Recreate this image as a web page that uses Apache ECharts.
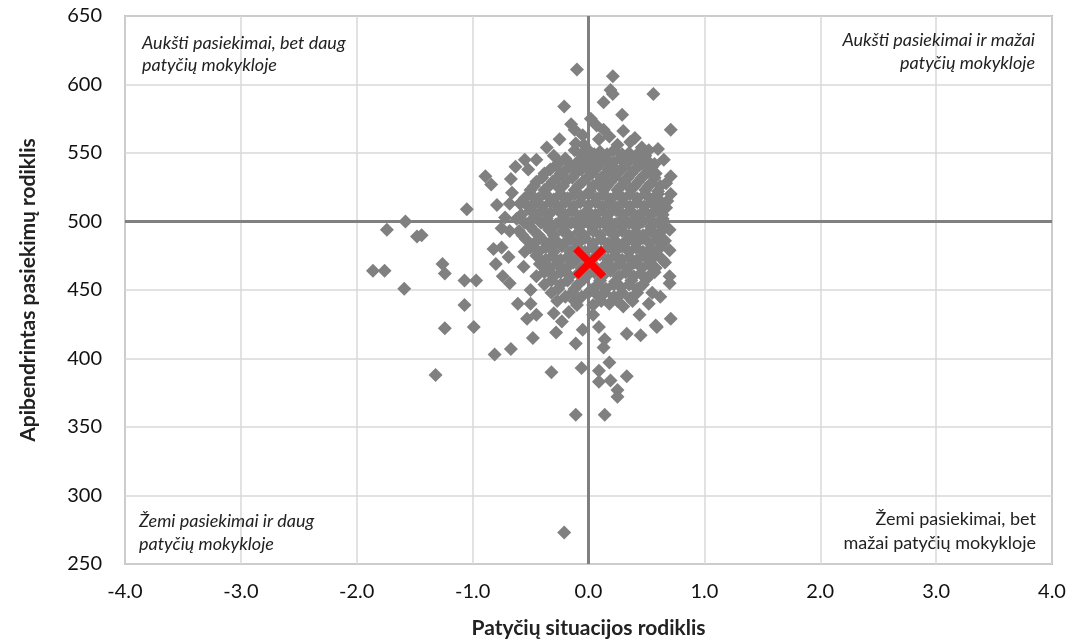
<!DOCTYPE html>
<html>
<head>
<meta charset="utf-8">
<title>Patyčių situacija ir pasiekimai</title>
<script src="https://cdn.jsdelivr.net/npm/echarts@6/dist/echarts.min.js"></script>
<style>
  html, body { margin: 0; padding: 0; background: #fff; }
  #main { width: 1075px; height: 644px; }
</style>
</head>
<body>
<div id="main"></div>
<script>
// axis ticks
var xTicks = [-4, -3, -2, -1, 0, 1, 2, 3, 4];
var yTicks = [250, 300, 350, 400, 450, 500, 550, 600, 650];

// schools far from the main cloud (read one by one)
var topPoints = [
  [-0.10, 611], [0.21, 606], [0.19, 596], [0.21, 593], [0.56, 593], [0.13, 587],
  [-0.21, 584], [0.29, 578], [-0.15, 571], [-0.12, 567], [0.07, 570], [0.13, 567],
  [0.71, 567], [0.09, 560], [-0.36, 554], [0.36, 558], [-0.11, 557], [0.46, 554],
  [0.52, 552], [-0.04, 556], [0.25, 556], [0.49, 548], [0.57, 542],
  [-0.25, 560], [-0.05, 563], [0.18, 562], [0.30, 566], [0.40, 561], [0.02, 575],
  [-0.30, 548], [0.60, 553], [0.65, 545]
];
var leftPoints = [
  [-0.63, 540], [-0.52, 538], [-0.89, 533], [-0.84, 527], [-0.67, 531], [-1.05, 509],
  [-0.79, 512], [-0.68, 513], [-0.59, 513], [-1.58, 500], [-1.74, 494], [-1.48, 489],
  [-1.44, 490], [-0.75, 495], [-0.68, 493], [-0.82, 480], [-0.75, 481], [-0.69, 474],
  [-0.80, 469], [-0.56, 467], [-1.86, 464], [-1.76, 464], [-1.26, 469], [-1.24, 462],
  [-1.07, 457], [-0.97, 457], [-1.59, 451], [-0.74, 460], [-0.68, 455], [-0.50, 450],
  [-0.61, 440], [-0.50, 440], [-1.07, 439], [-1.24, 422], [-0.99, 423], [-0.81, 403],
  [-0.67, 407], [-1.32, 388], [-0.66, 521], [-0.72, 503], [-0.55, 545], [-0.45, 545]
];
var bottomPoints = [
  [-0.53, 429], [-0.45, 432], [-0.30, 433], [-0.23, 427], [-0.17, 434], [-0.48, 415],
  [-0.28, 419], [-0.11, 411], [-0.05, 421], [-0.32, 390], [-0.06, 393], [-0.11, 359],
  [0.14, 359], [-0.21, 273], [0.09, 423], [0.14, 414], [0.13, 408], [0.18, 397],
  [0.09, 391], [0.09, 383], [0.19, 384], [0.33, 387], [0.25, 377], [0.25, 372],
  [0.33, 418], [0.45, 417], [0.58, 424], [0.71, 429], [0.04, 432], [0.44, 432],
  [0.52, 440], [0.59, 423]
];
var rightPoints = [
  [0.71, 533], [0.71, 520], [0.70, 494], [0.70, 479], [0.70, 460], [0.70, 455],
  [0.65, 500], [0.66, 486], [0.66, 470], [0.62, 445], [0.55, 448], [0.67, 510],
  [0.67, 528], [0.68, 515]
];
// dense middle of the cloud (estimated, too crowded to read singly)
var corePoints = [
  [-0.12, 552], [0.00, 552], [0.10, 551], [0.22, 552], [0.35, 550],
  [-0.20, 546], [-0.05, 546], [0.05, 547], [0.15, 545], [0.27, 546], [0.40, 546], [0.50, 545],
  [-0.28, 541], [-0.15, 541], [-0.02, 540], [0.09, 541], [0.20, 541], [0.31, 540], [0.44, 541], [0.55, 540],
  [-0.38, 535], [-0.24, 535], [-0.10, 536], [0.03, 535], [0.14, 534], [0.25, 535], [0.37, 535], [0.48, 534], [0.58, 535],
  [-0.45, 529], [-0.31, 529], [-0.19, 530], [-0.05, 529], [0.08, 528], [0.19, 529], [0.31, 530], [0.43, 529], [0.54, 528],
  [-0.50, 523], [-0.38, 523], [-0.25, 524], [-0.12, 523], [0.01, 522], [0.13, 523], [0.25, 523], [0.36, 524], [0.49, 523], [0.60, 522],
  [-0.55, 517], [-0.43, 517], [-0.30, 516], [-0.18, 517], [-0.06, 518], [0.07, 517], [0.19, 516], [0.30, 517], [0.42, 517], [0.55, 516],
  [-0.52, 511], [-0.40, 511], [-0.26, 510], [-0.13, 511], [0.00, 512], [0.12, 511], [0.24, 510], [0.36, 511], [0.48, 511], [0.60, 510],
  [-0.58, 505], [-0.45, 505], [-0.33, 506], [-0.20, 505], [-0.07, 504], [0.06, 505], [0.18, 506], [0.30, 505], [0.42, 504], [0.54, 505], [0.64, 505],
  [-0.55, 499], [-0.41, 499], [-0.28, 498], [-0.15, 499], [-0.02, 500], [0.10, 499], [0.23, 498], [0.35, 499], [0.47, 500], [0.60, 499],
  [-0.60, 493], [-0.47, 493], [-0.34, 494], [-0.22, 493], [-0.09, 492], [0.04, 493], [0.17, 494], [0.29, 493], [0.41, 492], [0.53, 493], [0.63, 493],
  [-0.54, 487], [-0.40, 487], [-0.28, 486], [-0.15, 487], [-0.03, 488], [0.11, 487], [0.23, 486], [0.35, 487], [0.47, 488], [0.60, 487],
  [-0.50, 481], [-0.37, 481], [-0.23, 482], [-0.10, 481], [0.05, 480], [0.17, 481], [0.29, 482], [0.41, 481], [0.53, 480], [0.62, 481],
  [-0.45, 475], [-0.31, 475], [-0.18, 474], [-0.05, 475], [0.10, 476], [0.23, 475], [0.35, 474], [0.48, 475], [0.59, 476],
  [-0.42, 469], [-0.27, 469], [-0.13, 470], [0.00, 469], [0.14, 468], [0.27, 469], [0.40, 470], [0.52, 469],
  [-0.38, 463], [-0.24, 463], [-0.09, 462], [0.05, 463], [0.19, 464], [0.32, 463], [0.45, 462], [0.57, 463],
  [-0.32, 457], [-0.18, 457], [-0.04, 458], [0.10, 457], [0.23, 456], [0.37, 457], [0.50, 458],
  [-0.26, 451], [-0.12, 451], [0.02, 450], [0.15, 451], [0.28, 452], [0.42, 451],
  [-0.20, 445], [-0.06, 445], [0.08, 446], [0.22, 445], [0.36, 444],
  [-0.10, 439], [0.04, 439], [0.18, 440], [0.30, 438]
];
// more estimated schools sitting between the rows above
var coreFill = [
  [-0.06, 549], [0.05, 549], [0.16, 549], [0.29, 549], [0.42, 549],
  [-0.25, 543], [-0.10, 543], [0.00, 543], [0.11, 543], [0.21, 543], [0.34, 543], [0.46, 543],
  [-0.33, 538], [-0.19, 538], [-0.06, 538], [0.06, 538], [0.17, 538], [0.28, 538], [0.40, 538], [0.52, 538],
  [-0.40, 532], [-0.27, 532], [-0.14, 532], [-0.01, 532], [0.11, 532], [0.22, 532], [0.34, 532], [0.46, 532], [0.57, 532],
  [-0.47, 526], [-0.34, 526], [-0.22, 526], [-0.09, 526], [0.04, 526], [0.16, 526], [0.28, 526], [0.40, 526], [0.52, 526], [0.62, 526],
  [-0.50, 520], [-0.37, 520], [-0.24, 520], [-0.12, 520], [0.00, 520], [0.13, 520], [0.25, 520], [0.36, 520], [0.49, 520], [0.60, 520],
  [-0.58, 514], [-0.46, 514], [-0.33, 514], [-0.20, 514], [-0.07, 514], [0.06, 514], [0.18, 514], [0.30, 514], [0.42, 514], [0.54, 514], [0.63, 514],
  [-0.50, 508], [-0.39, 508], [-0.26, 508], [-0.14, 508], [-0.01, 508], [0.12, 508], [0.24, 508], [0.36, 508], [0.48, 508], [0.59, 508],
  [-0.62, 502], [-0.48, 502], [-0.36, 502], [-0.22, 502], [-0.09, 502], [0.04, 502], [0.16, 502], [0.29, 502], [0.41, 502], [0.53, 502], [0.64, 502],
  [-0.50, 496], [-0.35, 496], [-0.21, 496], [-0.08, 496], [0.04, 496], [0.17, 496], [0.29, 496], [0.41, 496], [0.54, 496], [0.66, 496],
  [-0.57, 490], [-0.43, 490], [-0.30, 490], [-0.17, 490], [-0.04, 490], [0.10, 490], [0.22, 490], [0.35, 490], [0.47, 490], [0.58, 490],
  [-0.47, 484], [-0.34, 484], [-0.21, 484], [-0.09, 484], [0.04, 484], [0.17, 484], [0.30, 484], [0.41, 484], [0.53, 484], [0.64, 484],
  [-0.55, 478], [-0.43, 478], [-0.30, 478], [-0.16, 478], [-0.03, 478], [0.11, 478], [0.23, 478], [0.35, 478], [0.47, 478], [0.58, 478],
  [-0.37, 472], [-0.24, 472], [-0.11, 472], [0.03, 472], [0.17, 472], [0.29, 472], [0.42, 472], [0.54, 472], [0.64, 472],
  [-0.33, 466], [-0.19, 466], [-0.06, 466], [0.07, 466], [0.21, 466], [0.34, 466], [0.46, 466], [0.58, 466],
  [-0.45, 460], [-0.30, 460], [-0.16, 460], [-0.02, 460], [0.12, 460], [0.26, 460], [0.39, 460], [0.52, 460],
  [-0.38, 454], [-0.24, 454], [-0.09, 454], [0.08, 454], [0.22, 454], [0.35, 454], [0.47, 454],
  [-0.32, 448], [-0.14, 448], [0.00, 448], [0.14, 448], [0.29, 448], [0.42, 448],
  [-0.27, 442], [-0.12, 442], [0.11, 442], [0.25, 442], [0.38, 442]
];
// average over all schools (red cross)
var meanPoint = [[0.01, 470]];

var quadrantX = 0;
var quadrantY = 500;

var allPoints = [].concat(corePoints, coreFill, topPoints, leftPoints, bottomPoints, rightPoints);

var fontName = 'Lato, "Open Sans", sans-serif';
var crossPath = 'path://M0,5 L5,0 L16,11 L27,0 L32,5 L21,16 L32,27 L27,32 L16,21 L5,32 L0,27 L11,16 Z';

var myChart = echarts.init(document.getElementById('main'));

var option = {
  backgroundColor: '#fff',
  animation: false,
  grid: {
    left: 125, right: 23, top: 16, bottom: 80,
    show: true, borderColor: '#8c8c8c', borderWidth: 1.5, backgroundColor: 'transparent'
  },
  xAxis: {
    type: 'value',
    min: xTicks[0], max: xTicks[xTicks.length - 1], interval: 1,
    name: 'Patyčių situacijos rodiklis',
    nameLocation: 'middle', nameGap: 54,
    nameTextStyle: { fontFamily: fontName, fontSize: 21, fontWeight: 'bold', color: '#222' },
    axisLine: { show: false },
    axisTick: { show: false },
    axisLabel: {
      fontFamily: fontName, fontSize: 20, color: '#111', margin: 18,
      formatter: function (v) { return v.toFixed(1); }
    },
    splitLine: { show: true, lineStyle: { color: '#d9d9d9', width: 1.5 } }
  },
  yAxis: {
    type: 'value',
    min: yTicks[0], max: yTicks[yTicks.length - 1], interval: 50,
    name: 'Apibendrintas pasiekimų rodiklis',
    nameLocation: 'middle', nameGap: 86, nameRotate: 90,
    nameTextStyle: { fontFamily: fontName, fontSize: 21, fontWeight: 'bold', color: '#222' },
    axisLine: { show: false },
    axisTick: { show: false },
    axisLabel: { fontFamily: fontName, fontSize: 20, color: '#111', margin: 23 },
    splitLine: { show: true, lineStyle: { color: '#d9d9d9', width: 1.5 } }
  },
  series: [
    {
      // quadrant lines, under the points
      type: 'scatter',
      data: [],
      z: 1,
      markLine: {
        silent: true,
        symbol: 'none',
        label: { show: false },
        lineStyle: { color: '#808080', width: 3, type: 'solid' },
        data: [{ xAxis: quadrantX }, { yAxis: quadrantY }]
      }
    },
    {
      name: 'Mokyklos',
      type: 'scatter',
      symbol: 'diamond',
      symbolSize: 14,
      itemStyle: { color: '#808080', opacity: 1 },
      z: 3,
      data: allPoints
    },
    {
      name: 'Vidurkis',
      type: 'scatter',
      symbol: crossPath,
      symbolSize: 33,
      itemStyle: { color: '#ff0000', opacity: 1 },
      z: 5,
      data: meanPoint
    }
  ],
  graphic: [
    {
      type: 'text', x: 142, y: 32, z: 10,
      style: {
        text: 'Aukšti pasiekimai, bet daug\npatyčių mokykloje',
        font: 'italic 18px ' + fontName, fill: '#222', lineHeight: 22,
        align: 'left', verticalAlign: 'top'
      }
    },
    {
      type: 'text', x: 1035, y: 29, z: 10,
      style: {
        text: 'Aukšti pasiekimai ir mažai\npatyčių mokykloje',
        font: 'italic 18px ' + fontName, fill: '#222', lineHeight: 23,
        align: 'right', verticalAlign: 'top'
      }
    },
    {
      type: 'text', x: 139, y: 510, z: 10,
      style: {
        text: 'Žemi pasiekimai ir daug\npatyčių mokykloje',
        font: 'italic 18px ' + fontName, fill: '#222', lineHeight: 23,
        align: 'left', verticalAlign: 'top'
      }
    },
    {
      type: 'text', x: 1036, y: 507, z: 10,
      style: {
        text: 'Žemi pasiekimai, bet\nmažai patyčių mokykloje',
        font: '18px ' + fontName, fill: '#222', lineHeight: 24,
        align: 'right', verticalAlign: 'top'
      }
    }
  ]
};

myChart.setOption(option);
</script>
</body>
</html>
